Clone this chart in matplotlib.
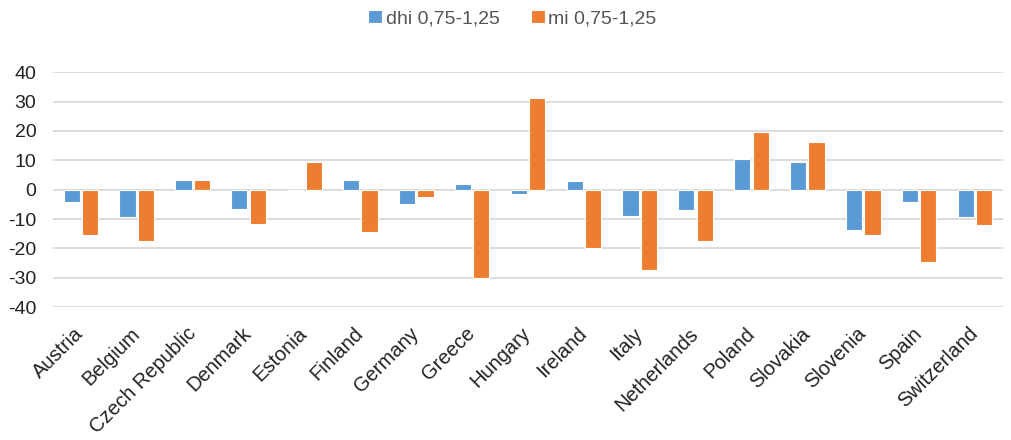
import numpy as np
import matplotlib.pyplot as plt

plt.rcParams['font.family'] = ['Liberation Sans', 'DejaVu Sans']

countries = ["Austria", "Belgium", "Czech Republic", "Denmark", "Estonia", "Finland",
             "Germany", "Greece", "Hungary", "Ireland", "Italy", "Netherlands",
             "Poland", "Slovakia", "Slovenia", "Spain", "Switzerland"]
dhi = [-4.2, -9.3, 3.2, -6.5, 0.0, 3.2, -5.0, 2.0, -1.5, 3.0, -9.0, -6.9,
       10.6, 9.3, -13.6, -4.1, -9.2]
mi = [-15.3, -17.6, 3.2, -11.7, 9.3, -14.3, -2.5, -30.0, 31.2, -19.8, -27.2, -17.6,
      19.5, 16.2, -15.3, -24.5, -12.0]
yticks = [-40, -30, -20, -10, 0, 10, 20, 30, 40]

blue = "#5b9bd5"
orange = "#ed7d31"

fig = plt.figure(figsize=(10.11, 4.4), dpi=100)
ax = fig.add_axes([0.0524, 0.302, 0.9396, 0.534])

x = np.arange(len(countries))
w = 0.29
ax.bar(x - 0.165, dhi, w, color=blue, edgecolor="white", linewidth=0.8,
       label="dhi 0,75-1,25", zorder=3)
ax.bar(x + 0.165, mi, w, color=orange, edgecolor="white", linewidth=0.8,
       label="mi 0,75-1,25", zorder=3)

ax.set_xlim(-0.5, len(countries) - 0.5)
ax.set_ylim(-40, 40)
ax.set_yticks(yticks)
ax.set_yticklabels([str(v) for v in yticks], fontsize=14, color="#222222")
ax.yaxis.grid(True, color="#d9d9d9", linewidth=1.3, zorder=0)
ax.set_xticks(x)
ax.set_xticklabels(countries, rotation=45, ha="right", va="center",
                   rotation_mode="anchor", fontsize=14.5, color="#222222")
ax.tick_params(length=0)
ax.tick_params(axis="y", pad=12)
ax.tick_params(axis="x", pad=17)
for s in ax.spines.values():
    s.set_visible(False)

fig.legend(loc="upper center", bbox_to_anchor=(0.507, 1.018), ncol=2, frameon=False,
           fontsize=14, handlelength=0.7, handleheight=0.7, handletextpad=0.2,
           columnspacing=1.6, labelcolor="#555555")

fig.savefig("out.png", dpi=100)
